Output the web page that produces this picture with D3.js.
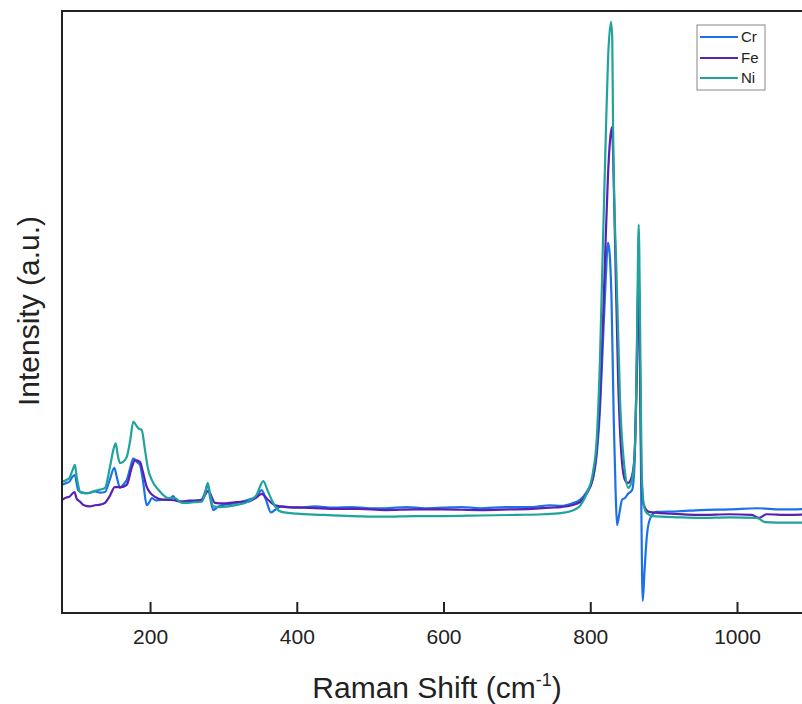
<!DOCTYPE html>
<html>
<head>
<meta charset="utf-8">
<script src="https://cdn.jsdelivr.net/npm/d3@7"></script>
<style>
  body { margin: 0; background: #fff; }
  text { font-family: "Liberation Sans", Arial, sans-serif; fill: #222; }
</style>
</head>
<body>
<div id="chart"></div>
<script>
// constant values
const w = 802, h = 704;
const margin = { left: 62, top: 11, bottom: 613 };

const seriesNames = ['Cr', 'Fe', 'Ni'];
const seriesColors = ['#1b72e6', '#5a20b2', '#1fa39c'];
const xTicks = [200, 400, 600, 800, 1000];

// [Raman shift, intensity]
const crData = [
  [80, 21.3], [86, 21.6], [90, 21.8], [94, 22.6], [97.7, 22.9], [100, 21.5], [102, 20.4],
  [108, 20.0], [115, 19.9], [125, 20.2], [132, 20.0], [138.6, 20.1],
  [145, 22.1], [151.3, 24.1], [155, 22.4], [159, 20.8], [164, 21.4], [168.2, 22.1], [173, 24.1],
  [177.2, 25.7], [182, 25.1], [186.3, 24.6], [190.8, 21.6], [195.4, 17.9], [199, 18.4],
  [202.3, 19.1], [208, 18.7], [215, 18.8], [224.9, 18.8], [231.7, 19.4], [236, 18.6], [243.2, 18.5],
  [255, 18.7], [263, 18.6], [270.4, 18.8], [275, 20.1], [278.6, 21.3], [282, 19.1], [286.2, 17.1],
  [292, 17.6], [297.7, 17.9], [310, 18.1], [322, 18.4],
  [333.9, 18.8], [345, 19.4], [352.2, 20.4], [358, 18.8], [364.9, 16.7], [370, 17.1],
  [379.4, 17.7], [400, 17.5], [425, 17.7], [450, 17.5], [475, 17.6], [500, 17.4], [520, 17.4],
  [550, 17.6], [575, 17.4], [600, 17.5], [625, 17.6], [650, 17.4], [685, 17.6], [720, 17.6],
  [745, 17.9], [760, 17.8], [775, 18.2], [786, 18.8], [795, 20.1], [803.7, 22.4], [808.7, 26.2],
  [813.2, 33.7], [817.4, 45.3], [821, 55.3], [824.2, 61.5], [826, 60.3], [829, 52.0], [832, 32.1],
  [834.5, 20.4], [836.5, 14.6], [840, 16.8], [843.3, 18.8], [847.3, 19.1], [851.5, 19.8],
  [856.9, 20.4], [860, 23.8], [863, 38.7], [866, 57.0], [868, 38.7], [869.5, 18.8],
  [871.5, 2.0], [874, 7.1], [877.3, 13.0], [882, 15.8], [890, 16.8], [920, 16.9], [950, 17.1],
  [990, 17.2], [1027, 17.4], [1060, 17.2], [1100, 17.3]
];

const feData = [
  [80, 18.8], [86, 19.2], [90, 19.3], [97, 20.1], [100, 19.0], [104.5, 18.5], [110, 17.9],
  [117.8, 17.7], [125, 17.9], [132, 18.0], [138.6, 18.3], [145, 19.4],
  [152, 20.9], [160, 20.9], [168.2, 21.3], [175, 24.1], [179.5, 25.4], [186.3, 25.1], [190, 23.6],
  [195.4, 21.0], [200, 20.0], [206.8, 19.3], [215, 18.9], [224.9, 18.8], [235, 18.7], [243.2, 18.5],
  [255, 18.6], [263, 18.7], [270.4, 18.8], [279.4, 20.3], [288.5, 18.3], [300, 18.2], [315, 18.4],
  [333.9, 18.5], [344, 19.1], [352.2, 19.8], [360, 18.9], [370.3, 17.9], [385, 17.6], [410, 17.5],
  [450, 17.3], [485, 17.3], [520, 17.1], [560, 17.2], [600, 17.2], [650, 17.1], [690, 17.2],
  [720, 17.3], [745, 17.5], [760, 17.6], [775, 17.9], [786, 18.4], [795, 19.8], [803.7, 22.4],
  [808.7, 27.1], [813.2, 35.4], [817.4, 48.7], [821, 62.0], [824.2, 72.8], [827, 78.6],
  [829.6, 80.7], [831, 76.9], [834, 60.3], [838, 38.7], [842, 27.1], [847.3, 22.1],
  [851.5, 21.6], [856, 22.4], [860, 25.4], [863, 37.2], [866, 55.5], [868, 38.7],
  [870, 22.1], [873, 17.9], [880, 16.8], [910, 16.5], [950, 16.3], [990, 16.4], [1020, 16.3],
  [1030, 15.8], [1040, 16.4], [1070, 16.3], [1100, 16.4]
];

const niData = [
  [80, 21.8], [86, 22.1], [90, 22.4], [94, 23.6], [97.7, 24.6], [100, 22.6], [102, 21.3], [104.5, 20.1],
  [110, 19.9], [115, 19.9], [125, 20.3], [132, 20.5], [138.6, 20.8], [145.4, 24.3], [150, 27.1],
  [153.2, 28.2], [156, 26.2], [159, 24.9], [163, 25.1], [168.2, 25.9], [173, 28.7], [177.2, 31.8],
  [181, 31.2], [184, 30.7], [188.6, 30.4], [193.1, 27.1], [197, 24.1], [202.3, 22.1], [212, 20.4],
  [224.9, 19.1], [234, 19.1], [243.2, 18.3], [252, 18.3], [260, 18.4], [270.4, 18.5], [275, 19.8],
  [278.6, 21.6], [282, 19.6], [286.2, 17.7], [295, 17.6], [306.7, 17.7], [320, 18.0], [333.9, 18.5],
  [345, 19.6], [354.4, 21.9], [360, 20.4], [365.8, 18.8], [372, 17.4], [379.4, 16.8], [400, 16.5],
  [434, 16.3], [475, 16.1], [520, 16.0], [560, 16.1], [600, 16.1], [650, 16.2], [700, 16.3],
  [735, 16.4], [760, 16.6], [775, 17.0], [786, 17.8], [795, 19.8],
  [803.7, 23.4], [808.7, 28.7], [813.2, 42.0], [817.4, 62.0], [821, 78.6], [824.2, 91.9],
  [828.3, 98.2], [830, 95.2], [831, 81.9], [836, 55.3], [840.6, 35.4], [847.3, 23.4],
  [851.5, 20.8], [855, 21.3], [859, 23.8], [862, 32.1], [864, 48.7], [866, 64.5],
  [868, 47.0], [870, 23.8], [873, 17.9], [877, 16.6], [885, 16.1], [920, 15.9], [950, 15.8],
  [990, 15.9], [1027, 15.8], [1038, 15.1], [1070, 15.0], [1100, 15.0]
];

const allData = [crData, feData, niData];

const svg = d3.select('#chart')
  .append('svg')
  .attr('width', w)
  .attr('height', h)
  .style('background-color', '#fff');

const xScale = d3.scaleLinear()
  .domain([80, 1100])
  .range([margin.left, margin.left + (1100 - 80) * 0.7337]);

const yScale = d3.scaleLinear()
  .domain([0, 100])
  .range([margin.bottom, margin.top]);

svg.append('clipPath').attr('id', 'clip')
  .append('rect')
  .attr('x', margin.left)
  .attr('y', margin.top)
  .attr('width', w - margin.left)
  .attr('height', margin.bottom - margin.top);

const line = d3.line()
  .x(d => xScale(d[0]))
  .y(d => yScale(d[1]))
  .curve(d3.curveMonotoneX);

// draw the spectra
svg.append('g')
  .attr('clip-path', 'url(#clip)')
  .selectAll('path')
  .data(allData)
  .enter()
  .append('path')
  .attr('d', line)
  .attr('fill', 'none')
  .attr('stroke', (d, i) => seriesColors[i])
  .attr('stroke-width', 2.2)
  .attr('stroke-linejoin', 'round');

// frame (left and top)
svg.append('line')
  .attr('x1', margin.left).attr('x2', margin.left)
  .attr('y1', margin.top).attr('y2', margin.bottom)
  .attr('stroke', '#222').attr('stroke-width', 2);
svg.append('line')
  .attr('x1', margin.left - 1).attr('x2', w)
  .attr('y1', margin.top).attr('y2', margin.top)
  .attr('stroke', '#222').attr('stroke-width', 2);

// x axis
const x_axis = d3.axisBottom(xScale)
  .tickValues(xTicks)
  .tickSizeInner(-11)
  .tickSizeOuter(0)
  .tickFormat(d3.format('d'));

const gx = svg.append('g')
  .attr('transform', 'translate(0,' + margin.bottom + ')')
  .call(x_axis);
gx.select('.domain').attr('stroke', '#222').attr('stroke-width', 2)
  .attr('d', 'M' + (margin.left - 1) + ',0H' + w);
gx.selectAll('.tick line').attr('stroke', '#222').attr('stroke-width', 2);
gx.selectAll('.tick text')
  .attr('y', 16)
  .attr('font-size', 21)
  .attr('fill', '#222');

// axis titles
const xTitle = svg.append('text')
  .attr('x', 437)
  .attr('y', 698)
  .attr('text-anchor', 'middle')
  .attr('font-size', 30);
xTitle.append('tspan').text('Raman Shift (cm');
xTitle.append('tspan').attr('font-size', 18).attr('dy', -12).text('-1');
xTitle.append('tspan').attr('dy', 12).text(')');

svg.append('text')
  .attr('transform', 'translate(39,311) rotate(-90)')
  .attr('text-anchor', 'middle')
  .attr('font-size', 30)
  .text('Intensity (a.u.)');

// legend
const legend = svg.append('g');
legend.append('rect')
  .attr('x', 697).attr('y', 25)
  .attr('width', 68).attr('height', 65)
  .attr('fill', '#fff')
  .attr('stroke', '#888')
  .attr('stroke-width', 1);
const legendY = [37, 58, 78];
seriesNames.forEach((name, i) => {
  legend.append('line')
    .attr('x1', 700).attr('x2', 738)
    .attr('y1', legendY[i]).attr('y2', legendY[i])
    .attr('stroke', seriesColors[i]).attr('stroke-width', 2);
  legend.append('text')
    .attr('x', 741).attr('y', legendY[i] + 5)
    .attr('font-size', 15)
    .text(name);
});
</script>
</body>
</html>
